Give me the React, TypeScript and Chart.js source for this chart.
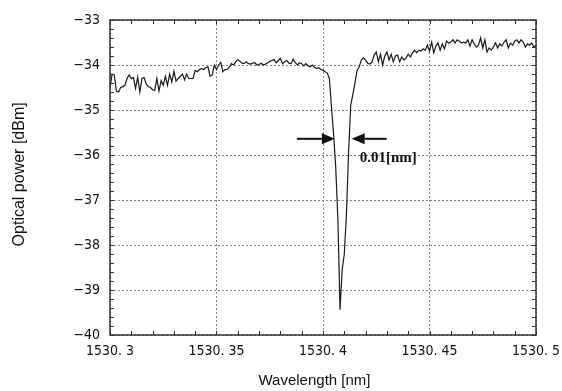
import React, { useEffect, useRef } from "react";
import { Chart, registerables } from "chart.js";

Chart.register(...registerables);

// Spectrum sampling grid (nm)
const WL_START = 1530.3;
const WL_STEP = 0.001;

// Measured optical power per sample (dBm)
const POWER_DBM = [
  -34.52, -34.2, -34.22, -34.58, -34.6, -34.5, -34.48, -34.45, -34.3, -34.22,
  -34.3, -34.28, -34.52, -34.27, -34.6, -34.3, -34.28, -34.42, -34.48, -34.5,
  -34.55, -34.56, -34.3, -34.58, -34.35, -34.45, -34.25, -34.45, -34.2, -34.38,
  -34.14, -34.36, -34.3, -34.25, -34.2, -34.33, -34.2, -34.3, -34.3, -34.3,
  -34.12, -34.15, -34.1, -34.08, -34.1, -34.06, -34.04, -34.25, -34.22, -34.0,
  -34.1, -34.0, -33.94, -34.15, -34.1, -34.1, -34.05, -33.97, -34.0, -33.93,
  -33.88, -33.92, -33.96, -33.97, -33.93, -33.97, -33.98, -33.96, -33.95, -34.0,
  -33.99, -33.96, -34.0, -33.98, -33.95, -33.92, -33.9, -33.88, -33.95, -33.9,
  -33.85, -33.97, -33.93, -33.9, -33.96, -33.97, -33.87, -33.95, -34.0, -33.95,
  -33.97, -34.02, -33.97, -34.02, -34.04, -34.0, -34.05, -34.08, -34.06, -34.1,
  -34.12, -34.15, -34.18, -34.3, -34.95, -35.55, -36.3, -37.45, -39.44, -38.55,
  -38.2, -37.33, -35.95, -34.9, -34.66, -34.4, -34.12, -34.04, -33.89, -33.84,
  -33.89, -33.96, -33.98, -33.93, -33.78, -33.71, -33.93, -33.76, -34.0, -33.8,
  -33.71, -33.89, -33.76, -33.93, -33.8, -33.78, -33.93, -33.82, -33.89, -33.84,
  -33.76, -33.82, -33.73, -33.67, -33.73, -33.67, -33.69, -33.64, -33.67, -33.56,
  -33.69, -33.49, -33.73, -33.58, -33.51, -33.67, -33.53, -33.64, -33.47, -33.51,
  -33.49, -33.44, -33.51, -33.44, -33.47, -33.51, -33.49, -33.51, -33.44, -33.58,
  -33.44, -33.53, -33.6, -33.56, -33.4, -33.62, -33.44, -33.71, -33.62, -33.67,
  -33.6, -33.51, -33.62, -33.53, -33.58, -33.49, -33.44, -33.62, -33.51, -33.56,
  -33.47, -33.44, -33.51, -33.44, -33.49, -33.6, -33.53, -33.56, -33.51, -33.6,
  -33.56,
];

const X_TICKS = [1530.3, 1530.35, 1530.4, 1530.45, 1530.5];
const Y_TICKS = [-40, -39, -38, -37, -36, -35, -34, -33];
const X_MINOR_STEP = 0.01;
const Y_MINOR_STEP = 0.2;

const X_TITLE = "Wavelength [nm]";
const Y_TITLE = "Optical power [dBm]";

// Level at which the notch width is marked
const WIDTH_LEVEL = -35.64;
const WIDTH_LABEL = "0.01[nm]";

const TICK_FONT = "'Liberation Sans Narrow', 'DejaVu Sans Condensed', 'Liberation Sans', sans-serif";
const TITLE_FONT = "'Liberation Sans', Arial, sans-serif";

function formatWavelength(v: number): string {
  const s = v.toFixed(2).replace(/0+$/, "").replace(/\.$/, "");
  return s.replace(".", ". ");
}

// Where the trace crosses a level on either side of its minimum (in data units)
function notchCrossings(level: number): [number, number] {
  let m = 0;
  for (let i = 1; i < POWER_DBM.length; i++) if (POWER_DBM[i] < POWER_DBM[m]) m = i;
  const wl = (i: number) => WL_START + i * WL_STEP;
  let left = wl(m);
  for (let i = m; i > 0; i--) {
    if (POWER_DBM[i - 1] >= level) {
      const t = (level - POWER_DBM[i - 1]) / (POWER_DBM[i] - POWER_DBM[i - 1]);
      left = wl(i - 1) + t * WL_STEP;
      break;
    }
  }
  let right = wl(m);
  for (let i = m; i < POWER_DBM.length - 1; i++) {
    if (POWER_DBM[i + 1] >= level) {
      const t = (level - POWER_DBM[i]) / (POWER_DBM[i + 1] - POWER_DBM[i]);
      right = wl(i) + t * WL_STEP;
      break;
    }
  }
  return [left, right];
}

function drawArrow(ctx: CanvasRenderingContext2D, tipX: number, y: number, dir: number, len: number) {
  const headLen = 13;
  const headHalf = 5.5;
  const baseX = tipX - dir * headLen;
  ctx.beginPath();
  ctx.lineWidth = 2;
  ctx.moveTo(tipX - dir * len, y);
  ctx.lineTo(baseX, y);
  ctx.stroke();
  ctx.beginPath();
  ctx.moveTo(tipX, y);
  ctx.lineTo(baseX, y - headHalf);
  ctx.lineTo(baseX, y + headHalf);
  ctx.closePath();
  ctx.fill();
}

const framePlugin = {
  id: "frameAndMarks",
  afterDatasetsDraw(chart: any) {
    const { ctx, chartArea: a, scales } = chart;
    const xs = scales.x;
    const ys = scales.y;
    ctx.save();

    // minor tick marks, pointing inward on all four sides
    ctx.strokeStyle = "#333";
    ctx.lineWidth = 1;
    ctx.beginPath();
    const nx = Math.round((X_TICKS[X_TICKS.length - 1] - X_TICKS[0]) / X_MINOR_STEP);
    for (let k = 0; k <= nx; k++) {
      const px = Math.round(xs.getPixelForValue(X_TICKS[0] + k * X_MINOR_STEP)) + 0.5;
      ctx.moveTo(px, a.bottom);
      ctx.lineTo(px, a.bottom - 4);
      ctx.moveTo(px, a.top);
      ctx.lineTo(px, a.top + 4);
    }
    const ny = Math.round((Y_TICKS[Y_TICKS.length - 1] - Y_TICKS[0]) / Y_MINOR_STEP);
    for (let k = 0; k <= ny; k++) {
      const py = Math.round(ys.getPixelForValue(Y_TICKS[0] + k * Y_MINOR_STEP)) + 0.5;
      ctx.moveTo(a.left, py);
      ctx.lineTo(a.left + 4, py);
      ctx.moveTo(a.right, py);
      ctx.lineTo(a.right - 4, py);
    }
    ctx.stroke();

    // plot frame
    ctx.lineWidth = 1.5;
    ctx.strokeStyle = "#333";
    ctx.strokeRect(a.left, a.top, a.right - a.left, a.bottom - a.top);

    // notch width markers
    const [wl0, wl1] = notchCrossings(WIDTH_LEVEL);
    const yPx = ys.getPixelForValue(WIDTH_LEVEL);
    const leftTip = xs.getPixelForValue(wl0) + 1;
    const rightTip = xs.getPixelForValue(wl1) + 2.5;
    ctx.strokeStyle = "#111";
    ctx.fillStyle = "#111";
    drawArrow(ctx, leftTip, yPx, 1, 38);
    drawArrow(ctx, rightTip, yPx, -1, 35);

    ctx.font = "bold 15px 'Liberation Serif', 'Times New Roman', serif";
    ctx.textAlign = "left";
    ctx.textBaseline = "middle";
    ctx.fillText(WIDTH_LABEL, rightTip + 8, yPx + 19);

    // axis titles
    ctx.fillStyle = "#111";
    ctx.textAlign = "center";
    ctx.textBaseline = "middle";
    ctx.font = `15px ${TITLE_FONT}`;
    ctx.fillText(X_TITLE, a.left + (a.right - a.left) * 0.48, chart.height - 10);
    ctx.save();
    ctx.translate(20, a.top + (a.bottom - a.top) * 0.49);
    ctx.rotate(-Math.PI / 2);
    ctx.font = `16px ${TITLE_FONT}`;
    ctx.fillText(Y_TITLE, 0, 0);
    ctx.restore();

    ctx.restore();
  },
};

export default function App() {
  const canvasRef = useRef<HTMLCanvasElement | null>(null);

  useEffect(() => {
    if (!canvasRef.current) return;
    const points = POWER_DBM.map((p, i) => ({ x: WL_START + i * WL_STEP, y: p }));

    const chart = new Chart(canvasRef.current, {
      type: "line",
      data: {
        datasets: [
          {
            data: points,
            borderColor: "#1a1a1a",
            borderWidth: 1.2,
            pointRadius: 0,
            tension: 0,
            fill: false,
          },
        ],
      },
      options: {
        animation: false,
        responsive: true,
        maintainAspectRatio: false,
        layout: { padding: { left: 0, right: 26, top: 20, bottom: 0 } },
        plugins: {
          legend: { display: false },
          tooltip: { enabled: false },
        },
        scales: {
          x: {
            type: "linear",
            min: X_TICKS[0],
            max: X_TICKS[X_TICKS.length - 1],
            afterBuildTicks: (s: any) => {
              s.ticks = X_TICKS.map((v) => ({ value: v }));
            },
            afterFit: (s: any) => {
              s.height = 56;
              s.paddingLeft = 0;
              s.paddingRight = 0;
            },
            ticks: {
              callback: (v: any) => formatWavelength(Number(v)),
              color: "#111",
              font: { family: TICK_FONT, size: 14 },
              padding: 8,
              maxRotation: 0,
              autoSkip: false,
            },
            grid: { color: "#888", lineWidth: 1, drawTicks: false },
            border: { display: false, dash: [2, 2] },
          },
          y: {
            type: "linear",
            min: Y_TICKS[0],
            max: Y_TICKS[Y_TICKS.length - 1],
            afterBuildTicks: (s: any) => {
              s.ticks = Y_TICKS.map((v) => ({ value: v }));
            },
            afterFit: (s: any) => {
              s.width = 110;
            },
            ticks: {
              callback: (v: any) => String(v).replace("-", "\u2212"),
              color: "#111",
              font: { family: TICK_FONT, size: 14 },
              padding: 10,
            },
            grid: { color: "#888", lineWidth: 1, drawTicks: false },
            border: { display: false, dash: [2, 2] },
          },
        },
      },
      plugins: [framePlugin],
    });

    return () => chart.destroy();
  }, []);

  return (
    <div style={{ position: "fixed", left: 0, top: 0, width: 562, height: 391, background: "#fff" }}>
      <canvas ref={canvasRef} />
    </div>
  );
}
